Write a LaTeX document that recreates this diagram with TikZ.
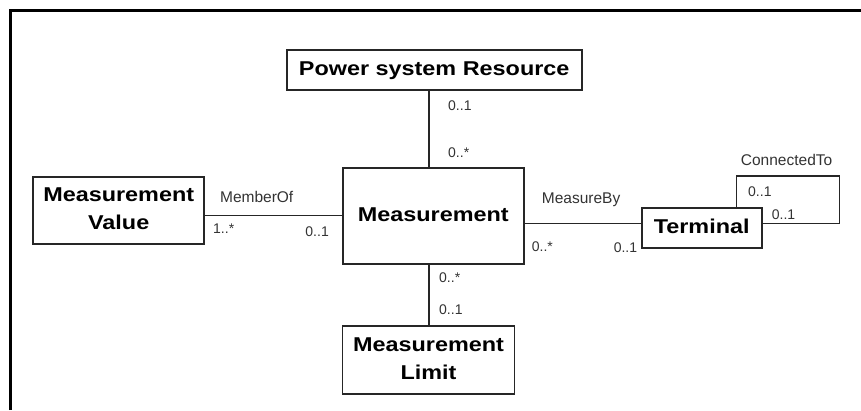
\documentclass[tikz,border=0pt]{standalone}
\usepackage{fontspec}
\setmainfont{Liberation Sans}
\usetikzlibrary{positioning}

% wide bold class name, one or two lines
\newcommand{\clsname}[1]{\scalebox{1.17}[1]{\fontsize{20}{28}\selectfont\bfseries
  \begin{tabular}{@{}c@{}}#1\end{tabular}}}

\tikzset{
  classbox/.style={draw=black!85, line width=1.8pt, fill=white, inner sep=0pt,
    minimum width=#1, text=black, align=center},
  assoc/.style={draw=black!85, line width=1.4pt},
  mult/.style={inner sep=0pt, text=black!80, font=\fontsize{14}{16}\selectfont},
  rolename/.style={inner sep=0pt, text=black!80, font=\fontsize{15.5}{17}\selectfont},
  frameline/.style={draw=black, line width=2.4pt},
}

\begin{document}
\begin{tikzpicture}[x=1pt, y=-1pt]
  \useasboundingbox (0,0) rectangle (861,410);

  % outer frame: only the top and left edges fall inside the view
  \draw[frameline] (10.5,410) -- (10.5,10.5) -- (861,10.5);

  % classes
  \node[classbox=295pt, minimum height=40pt] (psr) at (434.2,70) {\clsname{Power system Resource}};
  \node[classbox=181pt, minimum height=96pt] (meas) at (433.3,216.3) {\clsname{Measurement}};
  \node[classbox=171pt, minimum height=67pt] (mval) at (118.7,210.3) {\clsname{Measurement\\Value}};
  \node[classbox=172pt, minimum height=68pt] (mlim) at (428.5,360) {\clsname{Measurement\\Limit}};
  \node[classbox=120pt, minimum height=40.6pt] (term) at (701.7,228) {\clsname{Terminal}};

  % anchor lines for the connectors
  \coordinate (vx) at (429,0);
  \coordinate (hmember) at (0,215.7);
  \coordinate (hmeasure) at (0,223.3);
  \coordinate (loopx) at (736.7,0);
  \coordinate (loopne) at (839.3,176);

  % associations
  \draw[assoc] (psr.south -| vx) -- (meas.north -| vx);
  \draw[assoc] (meas.south -| vx) -- (mlim.north -| vx);
  \draw[assoc] (mval.east |- hmember) -- (meas.west |- hmember);
  \draw[assoc] (meas.east |- hmeasure) -- (term.west |- hmeasure);
  \draw[assoc] (term.north -| loopx) -- (loopx |- loopne) -- (loopne)
     -- (loopne |- hmeasure) -- (term.east |- hmeasure);

  % role names
  \node[rolename] (lmember) at (256.7,196.7) {MemberOf};
  \node[rolename, anchor=west] (lmeasure) at (541.7,200) {MeasureBy};
  \node[rolename, anchor=west] (lconn) at (740.7,160) {ConnectedTo};

  % multiplicities
  \node[mult, anchor=west] (m1) at (448,106) {0..1};
  \node[mult, anchor=west] (m2) at (448,153) {0..*};
  \node[mult, anchor=west] (m3) at (213,228.3) {1..*};
  \node[mult, anchor=east] (m4) at (329,231.7) {0..1};
  \node[mult, anchor=west] (m5) at (531.7,246.7) {0..*};
  \node[mult, anchor=east] (m6) at (637.3,247.3) {0..1};
  \node[mult, anchor=west] (m7) at (439,278) {0..*};
  \node[mult, anchor=west] (m8) at (439,310) {0..1};
  \node[mult, anchor=west] (m9) at (748,191.7) {0..1};
  \node[mult, anchor=west] (m10) at (771.7,215) {0..1};
\end{tikzpicture}
\end{document}
